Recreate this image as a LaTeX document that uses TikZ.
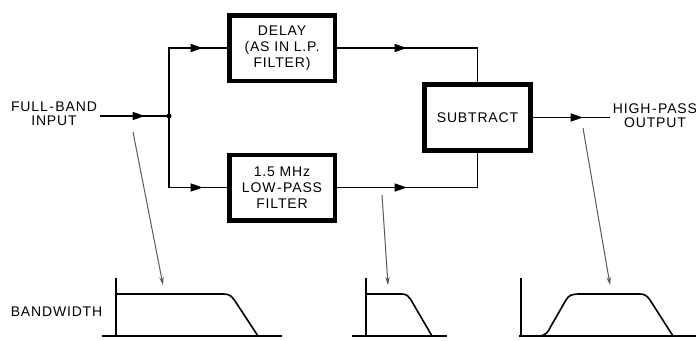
\documentclass[tikz,border=0pt]{standalone}
\usepackage{fontspec}
\setmainfont[LetterSpace=6]{Liberation Sans}
\usetikzlibrary{arrows.meta,decorations.markings}
\newcommand{\hy}{\kern1.5pt-\kern1.5pt}
\tikzset{
  lbl/.style={font=\fontsize{14}{14.5}\selectfont, text=black, align=center, inner sep=0pt},
  blk/.style={draw, line width=4.5pt, minimum width=105.5pt, minimum height=65.5pt,
    inner sep=0pt, align=center, font=\fontsize{14}{16.2}\selectfont, text=black},
  wire/.style={line width=1.7pt},
  arrowat/.style={postaction={decorate}, decoration={markings,
    mark=at position #1 with {\arrow{Triangle[length=12.5pt,width=8pt]}}}},
  ptr/.style={draw=black!65, line width=1pt, -{Stealth[length=8pt,width=4.5pt]}},
  curve/.style={line width=1.6pt, line join=round},
}
\begin{document}
\begin{tikzpicture}[x=1pt,y=-1pt]
\useasboundingbox (0,0) rectangle (696,340);

% blocks
\node[blk] (delay) at (282,48) {DELAY\\(AS IN L.P.\\FILTER)};
\node[blk] (lpf) at (282,187.5) {1.5 MHz\\LOW\hy PASS\\FILTER};
\node[blk, line width=5pt, minimum width=106pt, minimum height=66pt] (sub) at (477.5,117.5) {SUBTRACT};

% labels
\node[lbl] (inlbl) at (54,114) {FULL\hy BAND\\INPUT};
\node[lbl] (outlbl) at (655,115.5) {HIGH\hy PASS\\OUTPUT};
\node[lbl] (bw) at (56.5,311.5) {BANDWIDTH};

% connectors
\coordinate (inL) at (100,116);
\coordinate (j) at (169,116);
\coordinate (outR) at (610,117.5);
\draw[wire, arrowat=45pt] (inL) -- (j);
\draw[wire, arrowat=-24pt] (j) |- (delay.west);
\draw[wire, arrowat=-24pt] (j) |- (lpf.west);
\fill (j) circle (2.5pt);
\draw[wire, arrowat=70pt] (delay.east) -| (sub.north);
\draw[wire, arrowat=70pt] (lpf.east) -| (sub.south);
\draw[wire, arrowat=50pt] (sub.east) -- (outR);

% graphs
% graph 1
\draw[curve] (102,336) -- (282,336);
\draw[curve] (116,278) -- (116,336);
\draw[curve] (116,294) -- (224,294) .. controls (230,294) and (232,297) .. (235,301) -- (258,336);
% graph 2
\draw[curve] (352,336) -- (447,336);
\draw[curve] (366,278) -- (366,336);
\draw[curve] (366,294) -- (402,294) .. controls (407,294) and (409,297) .. (411,300) -- (432,336);
% graph 3
\draw[curve] (519,336) -- (696,336);
\draw[curve] (521,278) -- (521,336);
\draw[curve] (521,336) -- (538,336) .. controls (546,336) and (548,332) .. (551,326) -- (566,300)
  .. controls (569,295) and (572,294) .. (580,294) -- (640,294)
  .. controls (645,294) and (647,296) .. (650,300) -- (673,336);

% pointer arrows
\coordinate (p1s) at (133,132); \coordinate (p1e) at (163,285);
\coordinate (p2s) at (382,195); \coordinate (p2e) at (388,285);
\coordinate (p3s) at (583,128); \coordinate (p3e) at (610,285);
\draw[ptr] (p1s) -- (p1e);
\draw[ptr] (p2s) -- (p2e);
\draw[ptr] (p3s) -- (p3e);
\end{tikzpicture}
\end{document}
